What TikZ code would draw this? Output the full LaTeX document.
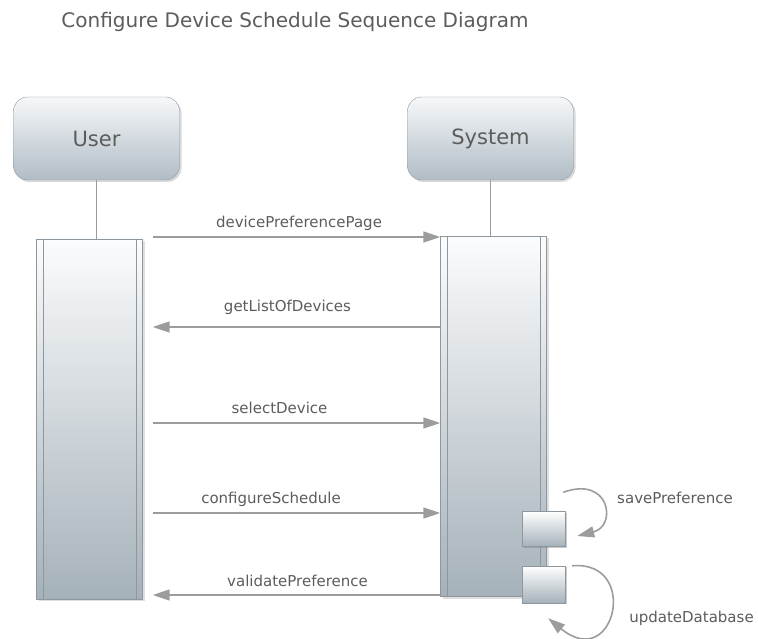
\documentclass[tikz,border=0pt]{standalone}
\usepackage{fontspec}
\setmainfont{DejaVu Sans}
\usetikzlibrary{arrows.meta,shadows}
\definecolor{linegray}{HTML}{9C9C9C}
\definecolor{textgray}{HTML}{5C5C5C}
\definecolor{boxtop}{HTML}{F6F8FA}
\definecolor{boxbottom}{HTML}{B0BCC4}
\definecolor{bartop}{HTML}{FBFCFD}
\definecolor{barbottom}{HTML}{A5B1B9}
\definecolor{edgegray}{HTML}{8E979D}

\begin{document}
\begin{tikzpicture}[x=1pt,y=-1pt,
    actor/.style={draw=edgegray,rounded corners=14pt,top color=boxtop,bottom color=boxbottom,
      minimum width=166pt,minimum height=83pt,inner sep=0pt,text=textgray,
      font=\fontsize{21}{25}\selectfont,
      drop shadow={opacity=.3,shadow xshift=2pt,shadow yshift=-2pt}},
    bar/.style={draw=edgegray,top color=bartop,bottom color=barbottom,inner sep=0pt,
      minimum width=106pt,minimum height=360pt,
      drop shadow={opacity=.25,shadow xshift=2pt,shadow yshift=-2pt}},
    selfbox/.style={draw=edgegray,top color=white,bottom color=barbottom,inner sep=0pt,
      minimum width=43pt,minimum height=35pt,
      drop shadow={opacity=.4,shadow xshift=2pt,shadow yshift=-1pt}},
    life/.style={draw=linegray,line width=1.6pt},
    msg/.style={draw=linegray,line width=1.6pt,-{Triangle[length=17pt,width=11pt]}},
    lbl/.style={text=textgray,font=\fontsize{15}{18}\selectfont,anchor=base,inner sep=0pt},
    title/.style={text=textgray,font=\fontsize{20}{24}\selectfont,anchor=base,inner sep=0pt}
  ]
  \useasboundingbox (0,0) rectangle (758,639);

  \node[title] (title) at (295,28) {Configure Device Schedule Sequence Diagram};

  \node[actor] (user) at (96.5,138.5) {User};
  \node[actor] (system) at (490.5,138.5) {System};

  \node[bar] (userbar) at (89.5,419) {};
  \node[bar] (sysbar) at (493.5,416.5) {};
  \foreach \b in {userbar,sysbar} {
    \draw[edgegray,thin] ([xshift=7pt]\b.north west) -- ([xshift=7pt]\b.south west);
    \draw[edgegray,thin] ([xshift=-7pt]\b.north east) -- ([xshift=-7pt]\b.south east);
  }

  \draw[life] (user.south) -- (user.south |- userbar.north);
  \draw[life] (system.south) -- (system.south |- sysbar.north);

  \node[selfbox] (save) at (543.5,529) {};
  \node[selfbox,minimum height=37pt] (update) at (543.5,584.5) {};

  % messages
  \draw[msg,shorten <=10pt] (userbar.east |- 0,237) -- (sysbar.west |- 0,237);
  \draw[msg,shorten >=10pt] (sysbar.west |- 0,327) -- (userbar.east |- 0,327);
  \draw[msg,shorten <=10pt] (userbar.east |- 0,423) -- (sysbar.west |- 0,423);
  \draw[msg,shorten <=10pt] (userbar.east |- 0,513) -- (sysbar.west |- 0,513);
  \draw[msg,shorten >=10pt] (sysbar.west |- 0,595) -- (userbar.east |- 0,595);

  \node[lbl] (l1) at (299,228) {devicePreferencePage};
  \node[lbl] (l2) at (287.5,312) {getListOfDevices};
  \node[lbl] (l3) at (279.5,413) {selectDevice};
  \node[lbl] (l4) at (271,503) {configureSchedule};
  \node[lbl] (l5) at (297.5,586) {validatePreference};

  % self calls
  \draw[msg] ([shift={(-2,-19)}]save.north east) .. controls +(47,-17) and +(40,-10) .. ([shift={(12,7)}]save.east);
  \draw[msg] ([shift={(7,0)}]update.north east) .. controls +(68,-6) and +(67,55) .. ([shift={(-17,15)}]update.south east);

  \node[lbl] (l6) at (675,503) {savePreference};
  \node[lbl] (l7) at (691.5,622) {updateDatabase};
\end{tikzpicture}
\end{document}
